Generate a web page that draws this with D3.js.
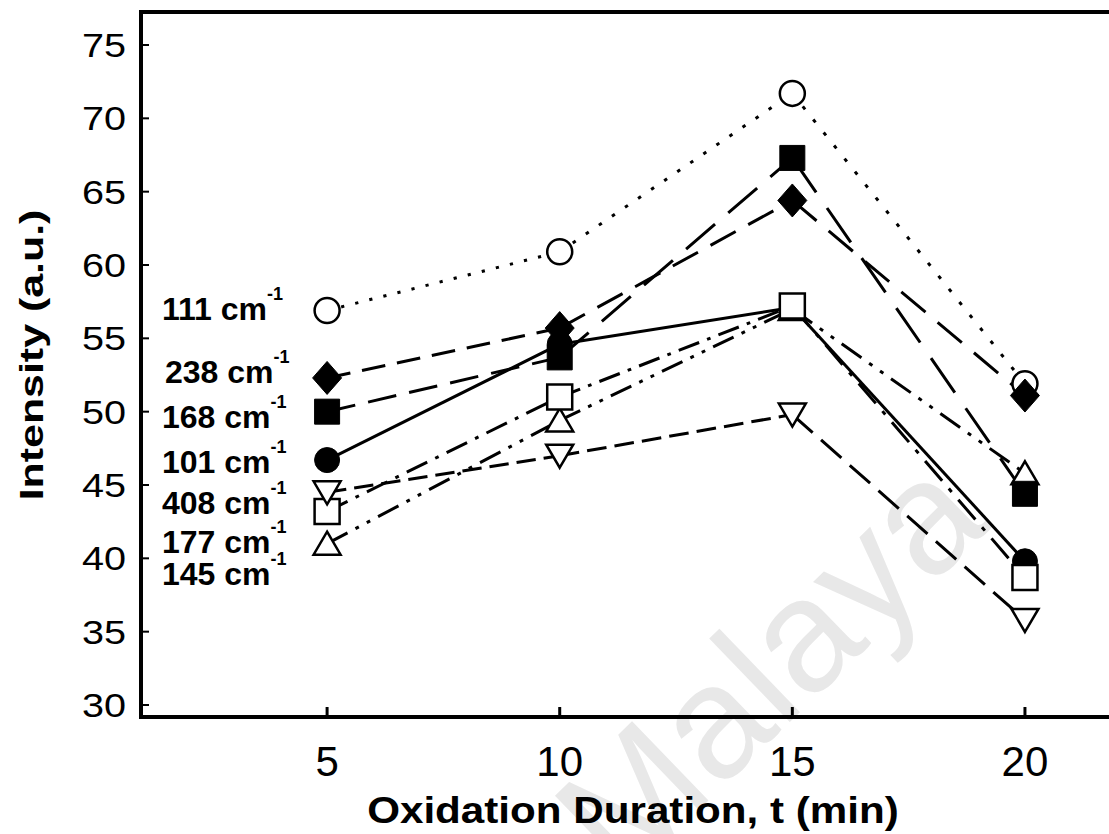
<!DOCTYPE html>
<html><head><meta charset="utf-8">
<script src="https://cdn.jsdelivr.net/npm/d3@7"></script>
<style>body{margin:0;background:#fff} svg{display:block}</style>
</head><body>
<script>
// ---- data ----
const times = [5, 10, 15, 20];
const seriesNames = ["111", "238", "168", "101", "408", "177", "145"];
const s111 = [56.9, 60.9, 71.7, 51.9];
const s238 = [52.3, 55.7, 64.4, 51.1];
const s168 = [50.0, 53.7, 67.3, 44.4];
const s101 = [46.7, 54.6, 57.1, 39.8];
const s408 = [44.5, 47.0, 49.8, 35.8];
const s177 = [43.2, 51.0, 57.2, 38.7];
const s145 = [41.0, 49.4, 57.0, 45.8];
const labelPos = [56.25, 51.95, 48.89, 45.82, 43.02, 40.36, 38.18];
const yTicks = [30, 35, 40, 45, 50, 55, 60, 65, 70, 75];
const xTicks = [5, 10, 15, 20];

// ---- styles ----
const styles = {
  "111": {marker: "circleOpen",  dash: [3, 10.5], grow: 0.3, dx: 0},
  "238": {marker: "diamond",     dash: [20, 10], grow: 0.9, dx: 3},
  "168": {marker: "squareFill",  dash: [24, 11], grow: 0.9, dx: 0},
  "101": {marker: "circleFill",  dash: null, grow: 0, dx: 0},
  "408": {marker: "triDownOpen", dash: [17, 7], grow: 0.9, dx: 0},
  "177": {marker: "squareOpen",  dash: [18, 7, 3, 7], grow: 0.6, dx: 0},
  "145": {marker: "triUpOpen",   dash: [18, 7, 3, 7, 3, 7], grow: 0.6, dx: 0}
};
const valuesByName = {"111": s111, "238": s238, "168": s168, "101": s101, "408": s408, "177": s177, "145": s145};
const drawOrder = ["111", "145", "101", "177", "408", "168", "238"];

const W = 1109, H = 834;
const svg = d3.select("body").append("svg").attr("width", W).attr("height", H)
  .style("font-family", "'Liberation Sans', Arial, sans-serif");

const x = d3.scaleLinear().domain([1, 22]).range([141, 1118]);
const y = d3.scaleLinear().domain([30, 75]).range([705, 45]);

// watermark
svg.append("text")
  .attr("transform", "translate(622,884) rotate(-44)")
  .attr("font-size", 160)
  .attr("fill", "#e8e8e8")
  .text("Malaya");

const frameTop = y(77.25), frameBottom = y(29.18), frameLeft = x(1);

// lines
const lineG = svg.append("g").attr("fill", "none").attr("stroke", "#000").attr("stroke-width", 3);
seriesNames.forEach(name => {
  const st = styles[name];
  const pts = times.map((t, i) => [x(t), y(valuesByName[name][i])]);
  for (let i = 0; i < pts.length - 1; i++) {
    const [x0, y0] = pts[i], [x1, y1] = pts[i + 1];
    const L = Math.hypot(x1 - x0, y1 - y0);
    const f = 1 + st.grow * Math.abs(y1 - y0) / L;
    lineG.append("path")
      .attr("d", d3.line()([pts[i], pts[i + 1]]))
      .attr("stroke-dasharray", st.dash ? st.dash.map(v => (v * f).toFixed(1)).join(",") : null);
  }
});

// markers
function markerPath(type, cx, cy) {
  const p = d3.path();
  if (type.startsWith("circle")) { p.moveTo(cx + 12.5, cy); p.arc(cx, cy, 12.5, 0, 2 * Math.PI); }
  else if (type.startsWith("square")) { p.rect(cx - 12.5, cy - 12.5, 25, 25); }
  else if (type === "diamond") { p.moveTo(cx, cy - 16.5); p.lineTo(cx + 14.5, cy); p.lineTo(cx, cy + 16.5); p.lineTo(cx - 14.5, cy); p.closePath(); }
  else if (type === "triUpOpen") { p.moveTo(cx, cy - 12); p.lineTo(cx + 13.5, cy + 11); p.lineTo(cx - 13.5, cy + 11); p.closePath(); }
  else if (type === "triDownOpen") { p.moveTo(cx, cy + 12); p.lineTo(cx + 13.5, cy - 11); p.lineTo(cx - 13.5, cy - 11); p.closePath(); }
  return p.toString();
}
const mG = svg.append("g");
drawOrder.forEach(name => {
  const st = styles[name];
  const filled = !st.marker.endsWith("Open");
  times.forEach((t, i) => {
    mG.append("path")
      .attr("d", markerPath(st.marker, x(t), y(valuesByName[name][i])))
      .attr("fill", filled ? "#000" : "#fff")
      .attr("stroke", "#000")
      .attr("stroke-width", filled ? 1 : 2.5);
  });
});

// series labels
const labG = svg.append("g").attr("font-weight", "bold").attr("fill", "#000");
seriesNames.forEach((name, i) => {
  const t = labG.append("text")
    .attr("x", 162 + styles[name].dx)
    .attr("y", y(labelPos[i]))
    .attr("font-size", 32);
  t.append("tspan").text(name + " cm");
  t.append("tspan").attr("font-size", 18).attr("dy", -20).text("-1");
});

// frame
const fr = svg.append("g").attr("stroke", "#000").attr("fill", "none");
fr.append("path").attr("d", `M${frameLeft},${frameTop}H${W + 10}`).attr("stroke-width", 4);
fr.append("path").attr("d", `M${frameLeft},${frameTop - 2}V${frameBottom + 2}`).attr("stroke-width", 4);
fr.append("path").attr("d", `M${frameLeft - 2},${frameBottom}H${W + 10}`).attr("stroke-width", 4);

// y ticks
yTicks.forEach(v => {
  fr.append("line").attr("x1", frameLeft).attr("x2", frameLeft + 8).attr("y1", y(v)).attr("y2", y(v)).attr("stroke-width", 2);
  svg.append("text")
    .attr("transform", `translate(126,${y(v)}) scale(1.2,1)`)
    .attr("text-anchor", "end").attr("dy", "0.36em")
    .attr("font-size", 33).text(v);
});
// x ticks
xTicks.forEach(v => {
  fr.append("line").attr("x1", x(v)).attr("x2", x(v)).attr("y1", frameBottom).attr("y2", frameBottom - 10).attr("stroke-width", 3);
  svg.append("text")
    .attr("x", x(v)).attr("y", 776)
    .attr("text-anchor", "middle")
    .attr("font-size", 42).text(v);
});

// axis titles
svg.append("text")
  .attr("transform", "translate(633,823) scale(1.14,1)")
  .attr("text-anchor", "middle").attr("font-weight", "bold")
  .attr("font-size", 37).text("Oxidation Duration, t (min)");
svg.append("text")
  .attr("transform", "translate(43,355) rotate(-90) scale(1.3,1)")
  .attr("text-anchor", "middle").attr("font-weight", "bold")
  .attr("font-size", 33).text("Intensity (a.u.)");
</script>
</body></html>
